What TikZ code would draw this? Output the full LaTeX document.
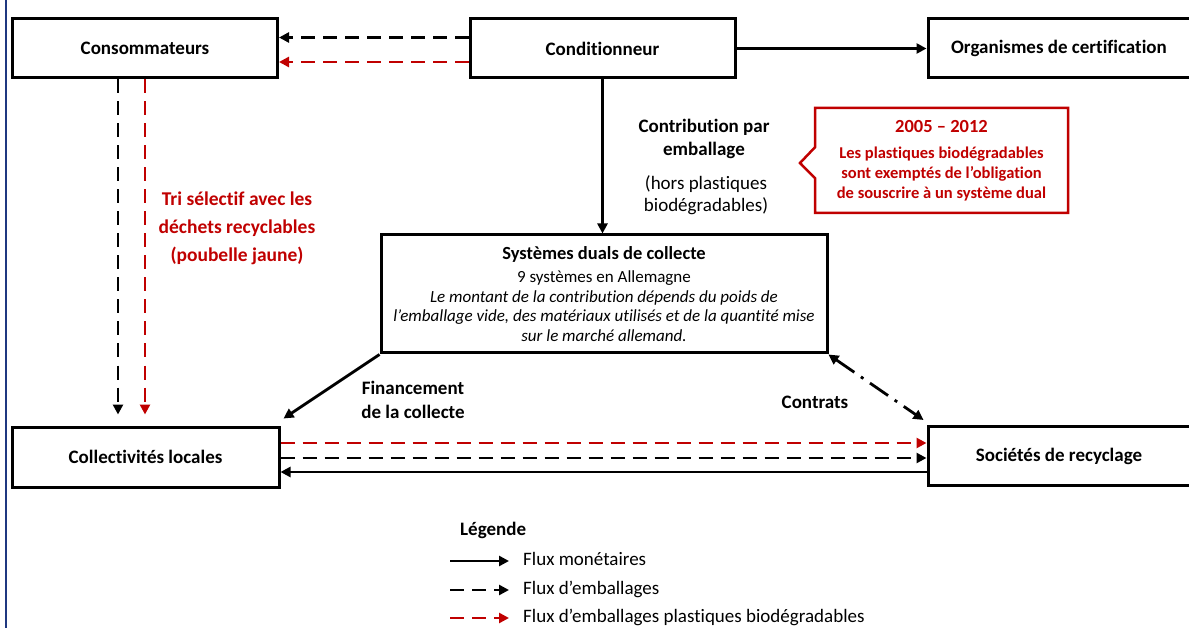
\documentclass[tikz,border=0pt]{standalone}
\usepackage{fontspec}
\setmainfont{Carlito}[Ligatures={TeX,NoCommon}]
\usetikzlibrary{arrows.meta, positioning, shapes.callouts}
\definecolor{biored}{RGB}{192,0,0}
\definecolor{framebl}{RGB}{31,56,128}

\begin{document}
\begin{tikzpicture}[x=1pt,y=-1pt]
\tikzstyle{every node}+=[inner sep=0pt]
\tikzstyle{actor}=[draw=black, line width=3pt, minimum width=265pt, minimum height=59pt, font=\bfseries\fontsize{19}{22}\selectfont]
\tikzstyle{money}=[line width=2.8pt, -{Triangle[length=10pt,width=10pt]}]
\tikzstyle{pack}=[money, dash pattern=on 14pt off 8pt]
\tikzstyle{bio}=[pack, draw=biored]
\tikzstyle{contract}=[line width=2.8pt, {Triangle[length=10pt,width=10pt]}-{Triangle[length=10pt,width=10pt]}, dash pattern=on 22pt off 8pt on 3pt off 8pt]
\tikzstyle{lbl}=[font=\bfseries\fontsize{19}{23}\selectfont, align=center]
\tikzstyle{legtxt}=[anchor=west, font=\fontsize{19}{22}\selectfont, text height=12pt, text depth=4pt]
\useasboundingbox (0,0) rectangle (1189,628);
\draw [framebl, line width=2pt] (6,0) -- (6,628);
\node [actor] (conso) at (145,48.5) {Consommateurs};
\node [actor] (cond) at (602.5,48.5) {Conditionneur};
\node [actor, minimum width=262pt] (certif) at (1059,48.5) {Organismes de certification};
\node [actor, minimum width=267pt, minimum height=60pt] (colle) at (145.5,457) {Collectivités locales};
\node [actor, minimum width=262pt] (recyc) at (1059,456) {Sociétés de recyclage};
\node [actor, minimum width=446pt, minimum height=118pt, font=\fontsize{17}{19.5}\selectfont, align=center] (dual) at (604,294)
  {{\bfseries\fontsize{18.5}{20}\selectfont Systèmes duals de collecte}\\[4pt]
   9 systèmes en Allemagne\\
   {\itshape Le montant de la contribution dépends du poids de}\\
   {\itshape l’emballage vide, des matériaux utilisés et de la quantité mise}\\
   {\itshape sur le marché allemand.}};
\node [lbl] (contrib) at (704,139) {Contribution par\\emballage};
\node [lbl, font=\fontsize{19}{22}\selectfont] (hors) at (706,195) {(hors plastiques\\biodégradables)};
\node [rectangle callout, draw=biored, line width=2.5pt, minimum width=253pt, minimum height=105pt,
  callout absolute pointer={(800,163)}, callout pointer width=31pt, text=biored, align=center,
  font=\bfseries\fontsize{16.5}{20}\selectfont] (exempt) at (941.5,160.5)
  {{\fontsize{18.5}{20}\selectfont 2005 – 2012}\\[6pt]
   Les plastiques biodégradables\\
   sont exemptés de l’obligation\\
   de souscrire à un système dual};
\node [lbl, font=\bfseries\fontsize{19.5}{28}\selectfont, text=biored] (tri) at (237,228) {Tri sélectif avec les\\déchets recyclables\\(poubelle jaune)};
\node [lbl, font=\bfseries\fontsize{19}{24}\selectfont] (finan) at (413,400) {Financement\\de la collecte};
\node [lbl] (contrats) at (815,402) {Contrats};
\draw [pack] ([yshift=11pt]cond.west) -- ([yshift=11pt]cond.west -| conso.east);
\draw [bio] ([yshift=-13.5pt]cond.west) -- ([yshift=-13.5pt]cond.west -| conso.east);
\draw [money] (cond) -- (certif);
\draw [money] (cond.south) -- (cond.south |- dual.north);
\draw [pack, shorten >=11pt] ([xshift=-27pt]conso.south) -- ([xshift=-27pt]conso.south |- colle.north);
\draw [bio, shorten >=11pt] (conso.south) -- (conso.south |- colle.north);
\draw [money] (dual.south west) -- ([shift={(3pt,7pt)}]colle.north east);
\draw [contract] (dual.south east) -- ([shift={(-3pt,5pt)}]recyc.north west);
\draw [bio] ([yshift=14pt]colle.east) -- ([yshift=14pt]colle.east -| recyc.west);
\draw [pack] ([yshift=-1pt]colle.east) -- ([yshift=-1pt]colle.east -| recyc.west);
\draw [money] ([yshift=-16pt]recyc.west) -- ([yshift=-16pt]recyc.west -| colle.east);
\node [lbl, anchor=west] (legende) at (460,530) {Légende};
\node [legtxt] (legA) at (523,561) {Flux monétaires};
\node [legtxt] (legB) at (523,590) {Flux d’emballages};
\node [legtxt] (legC) at (523,618) {Flux d’emballages plastiques biodégradables};
\coordinate (startA) at (450,561);
\coordinate (startB) at (450,590);
\coordinate (startC) at (450,618);
\draw [money] (startA) -- ([xshift=-14pt]legA.west);
\draw [pack] (startB) -- ([xshift=-14pt]legB.west);
\draw [bio] (startC) -- ([xshift=-14pt]legC.west);
\end{tikzpicture}
\end{document}
